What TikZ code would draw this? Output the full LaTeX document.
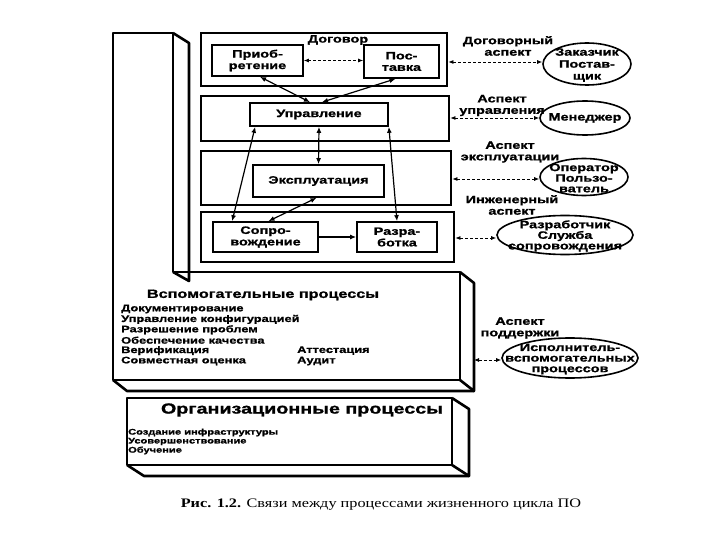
\documentclass[tikz,border=0pt]{standalone}
\usepackage{fontspec}
\setmainfont{Liberation Sans}[FakeStretch=1.35,BoldFeatures={FakeBold=1.2}]
\newfontfamily\capfont{Liberation Serif}[FakeStretch=1.25]
\usetikzlibrary{arrows.meta,shapes.geometric,calc}
\newcommand\labfont{\bfseries\fontsize{10.7}{11.5}\selectfont}
\newcommand\tightfont{\bfseries\fontsize{10.7}{10.6}\selectfont}
\newcommand\linefont{\bfseries\fontsize{9.5}{10.4}\selectfont}
\newcommand\orgfont{\bfseries\fontsize{8.2}{9}\selectfont}
\begin{document}
\begin{tikzpicture}[x=1pt,y=-1pt,
  panel/.style={draw,line width=2.8pt,inner sep=0pt},
  ibox/.style={draw,line width=1.7pt,align=center,inner sep=0pt,font=\labfont},
  ell/.style={draw,ellipse,line width=1.6pt,inner sep=0pt},
  lab/.style={align=center,font=\labfont,inner sep=0pt},
  pline/.style={anchor=west,font=\linefont,inner sep=0pt},
  oline/.style={anchor=west,font=\orgfont,inner sep=0pt},
  solidedge/.style={draw,line width=2.6pt,line join=round},
  dar/.style={densely dashed,line width=0.8pt,{Latex[length=5pt,width=4pt]}-{Latex[length=5pt,width=4pt]}},
  sar/.style={line width=1.2pt,{Latex[length=6pt,width=5pt]}-{Latex[length=6pt,width=5pt]}},
  oar/.style={line width=1.2pt,-{Latex[length=6pt,width=5pt]}},
]
\useasboundingbox (0,0) rectangle (720,540);

% 3D L-shaped block (primary + supporting processes)
\draw[solidedge] (113,33) -- (173,33) -- (173,272) -- (460,272) -- (460,380) -- (113,380) -- cycle;
\draw[solidedge] (173,33) -- (189,43) -- (189,281) -- (173,272);
\draw[solidedge] (460,272) -- (474,283) -- (474,391) -- (460,380);
\draw[solidedge] (113,380) -- (127,391) -- (474,391);

% 3D organizational block
\draw[solidedge] (127,398) rectangle (452,465);
\draw[solidedge] (452,398) -- (469,409) -- (469,476) -- (452,465);
\draw[solidedge] (127,465) -- (144,476) -- (469,476);

% aspect panels
\node[panel, minimum width=246, minimum height=53] (pdog) at (324,59.5) {};
\node[panel, minimum width=248, minimum height=45] (pupr) at (325,118.5) {};
\node[panel, minimum width=250, minimum height=54] (peks) at (326,178) {};
\node[panel, minimum width=253, minimum height=50] (pinz) at (327.5,237) {};

\node[lab] (tdog) at (338,40) {Договор};

% inner boxes
\node[ibox, minimum width=91, minimum height=31] (prio) at (257.5,60.5) {Приоб-\\ретение};
\node[ibox, minimum width=75, minimum height=33] (post) at (401.5,61.5) {Пос-\\тавка};
\node[ibox, minimum width=138, minimum height=23] (upr) at (319,114.5) {Управление};
\node[ibox, minimum width=131, minimum height=32] (eks) at (318.5,181) {Эксплуатация};
\node[ibox, minimum width=105, minimum height=30] (sopr) at (265.5,237) {Сопро-\\вождение};
\node[ibox, minimum width=80, minimum height=30] (razr) at (397,237) {Разра-\\ботка};

% inner connectors
\draw[dar] (prio.east) -- (post.west |- prio.east);
\draw[sar] ([xshift=-9pt]upr.north) -- ([xshift=2.5pt]prio.south);
\draw[sar] ([xshift=3pt]upr.north) -- ([xshift=-6pt]post.south);
\draw[sar] (upr.south) -- (eks.north);
\draw[sar] ([xshift=6pt]upr.south west) -- ([xshift=20pt]sopr.north west);
\draw[sar] (upr.south east) -- (razr.north);
\draw[sar] ([xshift=-2pt]eks.south) -- ([xshift=3pt]sopr.north);
\draw[oar] (sopr.east) -- (razr.west);

% ellipses
\node[ell, minimum width=88, minimum height=42] (e1) at (587,64) {};
\node[lab, font=\bfseries\fontsize{10.7}{12}\selectfont] (e1t) at ([yshift=-1pt]e1) {Заказчик\\Постав-\\щик};
\node[ell, minimum width=90, minimum height=34] (e2) at (585,118) {};
\node[lab] (e2t) at (e2) {Менеджер};
\node[ell, minimum width=88, minimum height=37] (e3) at (584,177) {};
\node[lab, font=\tightfont] (e3t) at ([yshift=-1pt]e3) {Оператор\\Пользо-\\ватель};
\node[ell, minimum width=136, minimum height=39] (e4) at (565,235) {};
\node[lab, font=\tightfont] (e4t) at ([yshift=-1pt]e4) {Разработчик\\Служба\\сопровождения};
\node[ell, minimum width=136, minimum height=40] (e5) at (570,358) {};
\node[lab, font=\tightfont] (e5t) at ([yshift=-1pt]e5) {Исполнитель-\\вспомогательных\\процессов};

% aspect labels
\node[lab] (a1) at (508,46) {Договорный\\аспект};
\node[lab] (a2) at (502,105.5) {Аспект\\управления};
\node[lab] (a3) at (510,152) {Аспект\\эксплуатации};
\node[lab] (a4) at (512,205) {Инженерный\\аспект};
\node[lab] (a5) at (520,328) {Аспект\\поддержки};

% aspect connectors
\draw[dar] (pdog.east |- 0,62) -- (e1.west |- 0,62);
\draw[dar] (pupr.east |- 0,118) -- (e2.west |- 0,118);
\draw[dar] (peks.east |- 0,179) -- (e3.west |- 0,179);
\draw[dar] (pinz.east |- 0,238) -- (e4.west |- 0,238);
\coordinate (bside) at (474,360);
\draw[dar] (bside) -- (e5.west |- bside);

% supporting processes text
\node[inner sep=0pt, font=\bfseries\fontsize{12}{13}\selectfont] (vtitle) at (263,295) {Вспомогательные процессы};
\node[pline] (v1) at (121,309) {Документирование};
\node[pline] (v2) at (121,319.4) {Управление конфигурацией};
\node[pline] (v3) at (121,329.8) {Разрешение проблем};
\node[pline] (v4) at (121,340.2) {Обеспечение качества};
\node[pline] (v5) at (121,350.6) {Верификация};
\node[pline] (v6) at (121,361) {Совместная оценка};
\node[pline] (v7) at (297,350.6) {Аттестация};
\node[pline] (v8) at (297,361) {Аудит};

% organizational processes text
\node[inner sep=0pt, font=\bfseries\fontsize{14.6}{16}\selectfont] (otitle) at (302,410) {Организационные процессы};
\node[oline] (o1) at (128,432.5) {Создание инфраструктуры};
\node[oline] (o2) at (128,441.5) {Усовершенствование};
\node[oline] (o3) at (128,450.5) {Обучение};

% caption
\node[inner sep=0pt, font=\capfont\fontsize{13}{14}\selectfont] (cap) at (381,505) {\textbf{Рис. 1.2.} Связи между процессами жизненного цикла ПО};
\end{tikzpicture}
\end{document}
